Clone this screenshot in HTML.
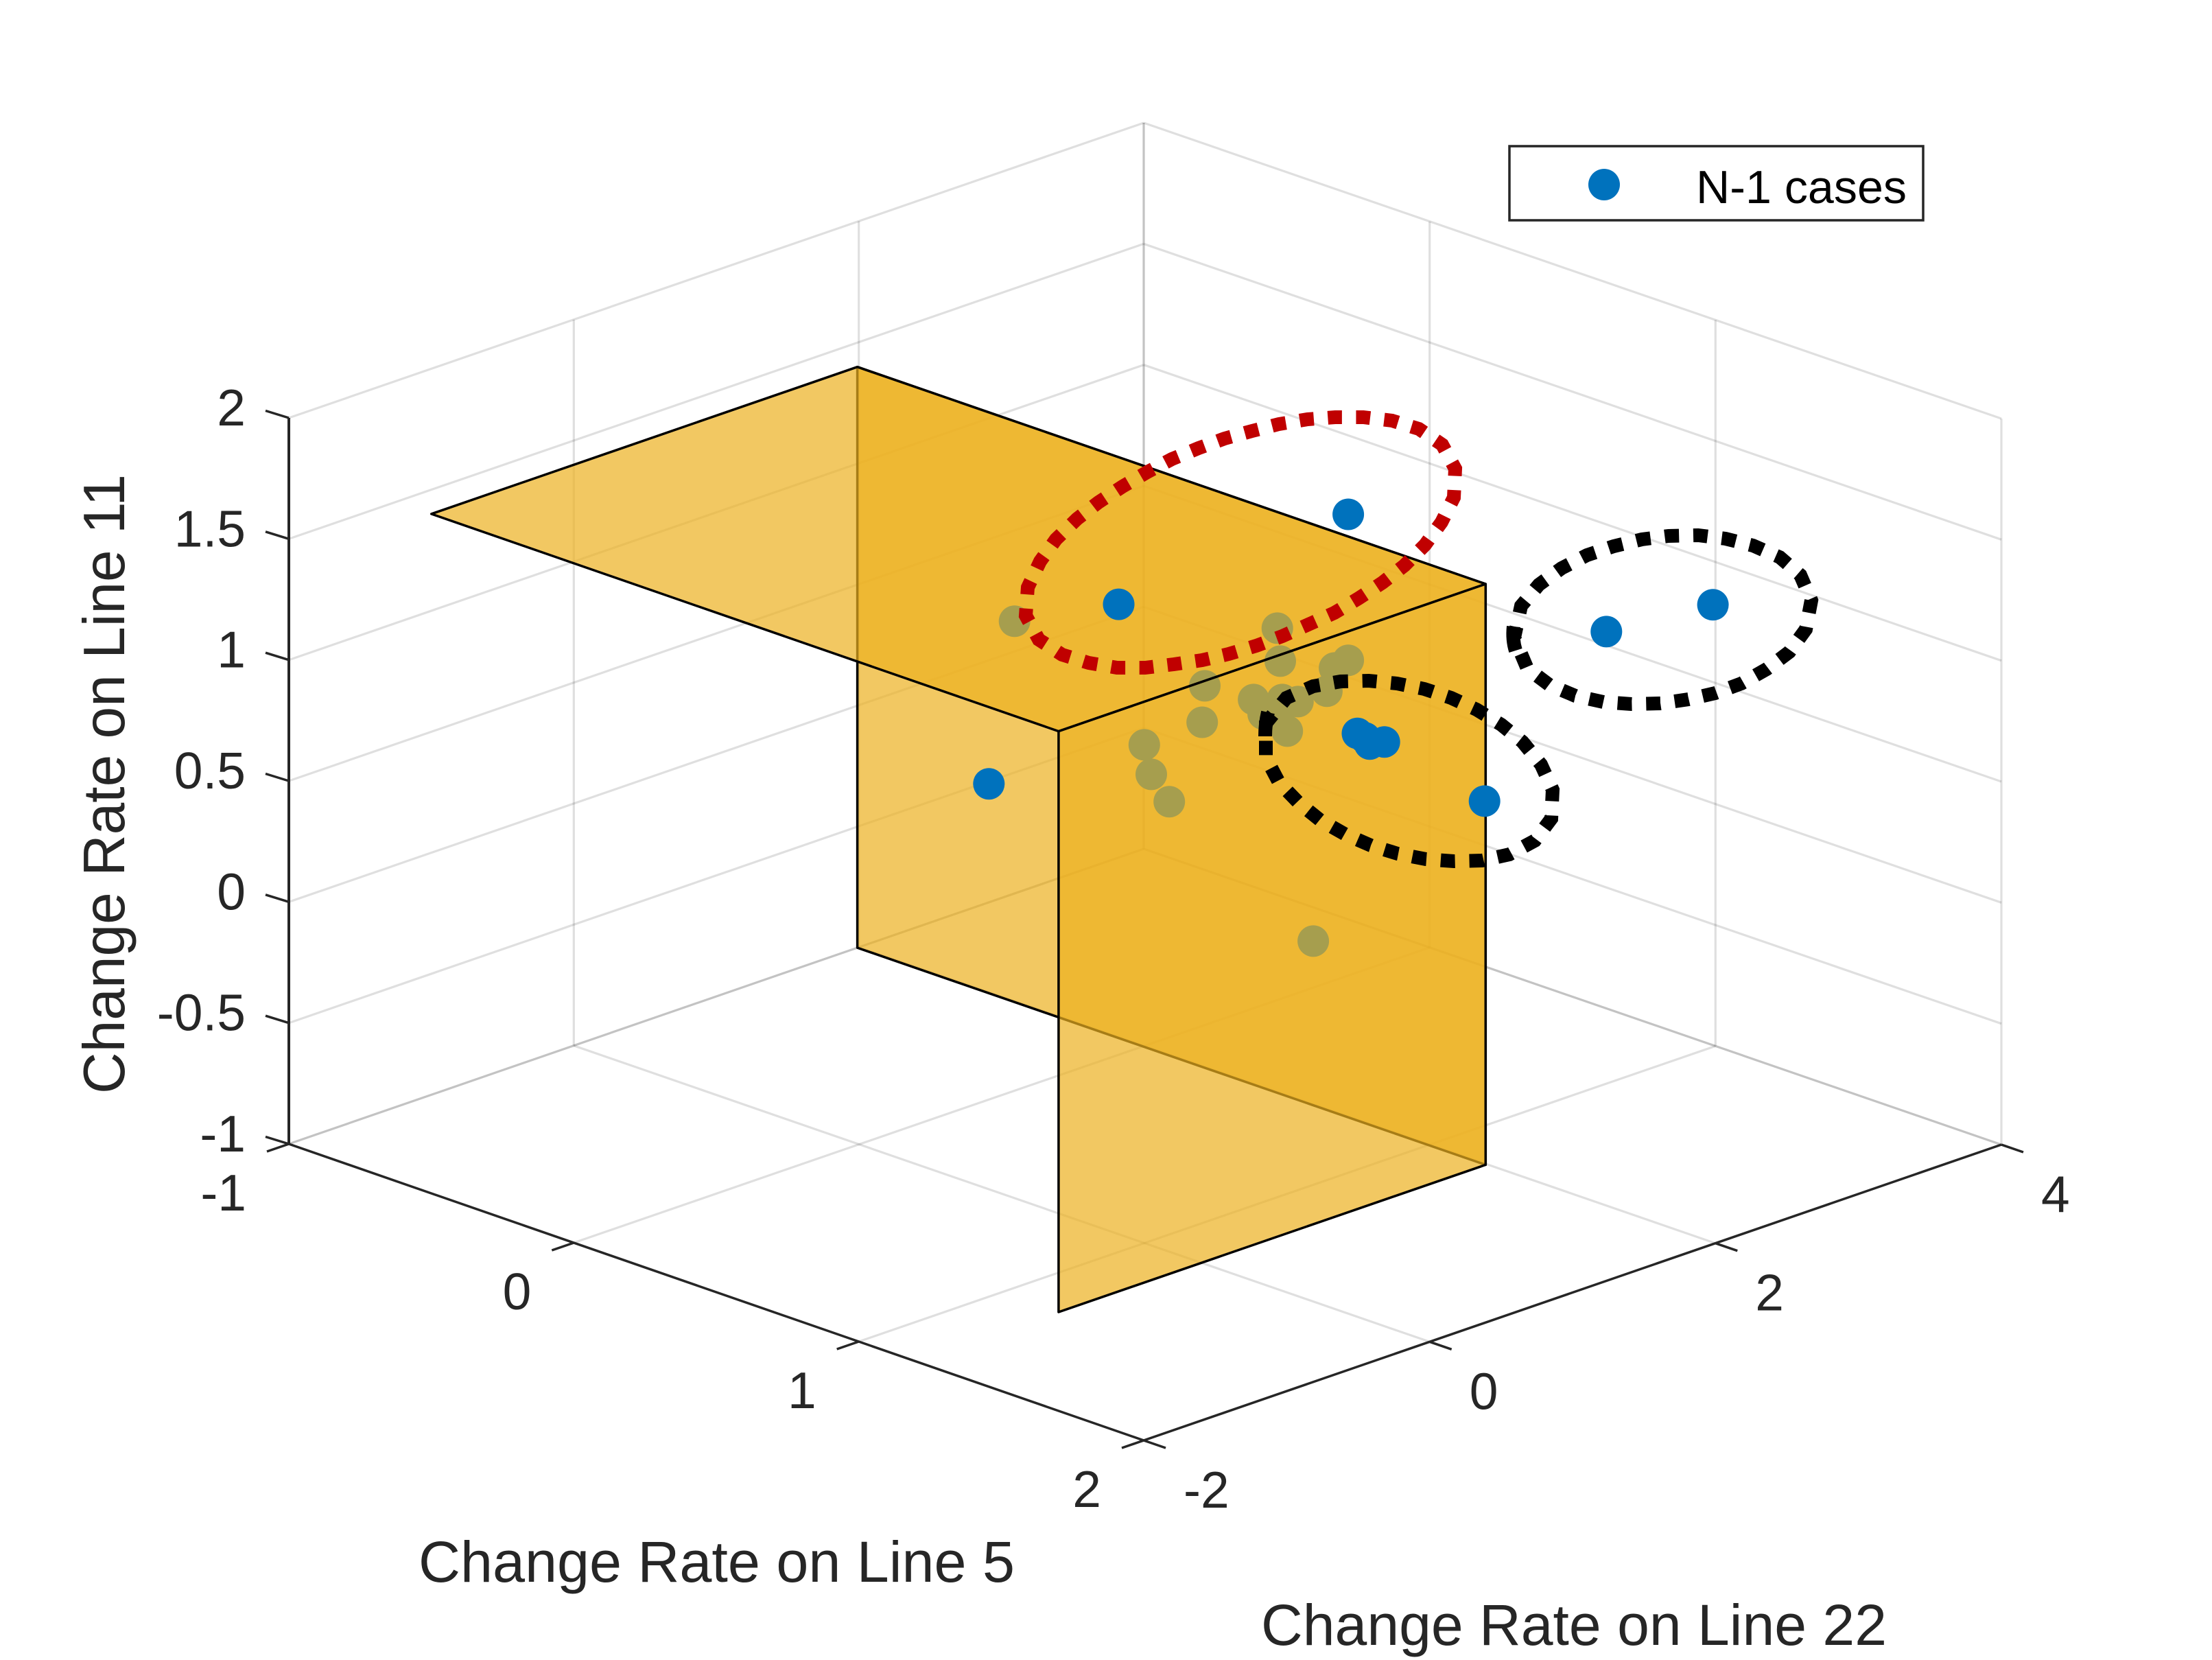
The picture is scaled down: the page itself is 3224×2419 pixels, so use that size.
<!DOCTYPE html>
<html>
<head>
<meta charset="utf-8">
<title>N-1 cases 3D scatter</title>
<style>
html,body{margin:0;padding:0;background:#fff;}
svg{display:block;font-family:"Liberation Sans",Arial,sans-serif;}
</style>
</head>
<body>
<svg id="chart" xmlns="http://www.w3.org/2000/svg" width="3224" height="2419" viewBox="0 0 3224 2419">
  <rect x="0" y="0" width="3224" height="2419" fill="#fff"/>
  <g id="grid" fill="none" stroke="#262626" stroke-opacity="0.15" stroke-width="3.2"></g>
  <g id="axes" fill="none" stroke="#262626" stroke-width="3.5"></g>
  <g id="tick-labels" font-size="75" fill="#262626"></g>
  <g id="back-layer"></g>
  <g id="hidden-points"></g>
  <g id="front-layer"></g>
  <g id="front-points"></g>

  <text x="610" y="2305" font-size="84" fill="#262626" textLength="869" lengthAdjust="spacingAndGlyphs">Change Rate on Line 5</text>
  <text x="1838" y="2397" font-size="84" fill="#262626" textLength="912" lengthAdjust="spacingAndGlyphs">Change Rate on Line 22</text>
  <text transform="translate(181 1594) rotate(-90)" x="0" y="0" font-size="85" fill="#262626" textLength="903" lengthAdjust="spacingAndGlyphs">Change Rate on Line 11</text>

  <g>
    <rect x="2200" y="213" width="603" height="108" fill="#fff" stroke="#262626" stroke-width="3.5"/>
    <circle cx="2338" cy="269" r="23" fill="#0072BD"/>
    <text x="2472" y="296" font-size="68" fill="#000" textLength="307" lengthAdjust="spacingAndGlyphs">N-1 cases</text>
  </g>

  <path fill="none" stroke="#C00000" stroke-width="20" pathLength="38" stroke-dasharray="0.5 0.5" stroke-dashoffset="0.25"
    d="M1495 897L1498 856L1516 818L1539 786L1570 756L1601 732L1636 709L1672 688L1708 669L1747 653L1785 639L1825 628L1864 618L1906 611L1946 608L1987 608L2029 613L2068 625L2102 648L2121 683L2119 725L2101 761L2077 794L2047 824L2015 849L1980 872L1945 893L1907 910L1869 927L1831 941L1791 953L1752 962L1711 968L1669 973L1628 973L1587 966L1548 954L1514 932Z"/>
  <path fill="none" stroke="#000" stroke-width="20" pathLength="26" stroke-dasharray="0.5 0.5" stroke-dashoffset="0.25"
    d="M2217 883L2243 852L2276 828L2313 809L2352 796L2393 786L2432 781L2475 780L2515 785L2555 795L2594 812L2624 838L2640 875L2632 917L2608 950L2575 975L2538 996L2500 1010L2461 1019L2420 1025L2378 1026L2337 1023L2296 1014L2258 998L2226 974L2207 929Z"/>
  <path fill="none" stroke="#000" stroke-width="20" d="M2206 913Q2204 932 2209 948"/>
  <path fill="none" stroke="#000" stroke-width="20" pathLength="26" stroke-dasharray="0.5 0.5" stroke-dashoffset="0.25"
    d="M1875 1017L1914 1000L1954 993L1995 992L2036 996L2076 1004L2115 1017L2152 1034L2188 1056L2219 1081L2246 1114L2263 1151L2261 1193L2237 1225L2200 1245L2160 1254L2119 1255L2078 1252L2037 1244L1998 1232L1961 1216L1924 1195L1893 1170L1864 1140L1845 1104L1845 1054Z"/>
  <path fill="none" stroke="#000" stroke-width="20" d="M1848 1038Q1844 1055 1844 1073"/>
</svg>
<script>
// Axis ticks
const xTicks = [-1, 0, 1, 2];
const yTicks = [-2, 0, 2, 4];
const zTicks = [-1, -0.5, 0, 0.5, 1, 1.5, 2];

// Decision-boundary patch extents (data units)
const patchX = [-1, 1.2];
const patchY = [-1, 1.99];
const patchZ = [-1, 1.4];

// N-1 case values
const caseLine5 = [0.852, 0.784, 1.826, 1.653, 0.24, 1.563, 1.243, 1.279, 1.318, 1.333,
  0.074, 0.569, 0.741, 0.856, 0.871, 0.489, 0.669, 0.644, 0.694, 0.732, 0.73, 0.734, 0.863, 0.771, 0.314, 0.476, 0.646, 0.746];
const caseLine22 = [1.724, 0.252, 2.33, 1.93, 0.43, 1.257, 1.007, 0.988, 0.943, 1.015,
  0.942, 1.793, 1.47, 1.716, 1.59, 1.445, 1.067, 1.477, 1.578, 1.612, 1.818, 1.364, 1.275, 1.396, 1.371, 1.096, 0.882, 1.691];
const caseLine11 = [1.6, 1.5, 1.5, 1.4, 0.5, 0.8, 1, 1, 1, 1,
  1, 1, 1, 1, 1, 0.8, 0.8, 0.8, 0.8, 0.8, 0.8, 0.8, 0.8, 0.8, 0.5, 0.5, 0.5, -0.2];

const NS = 'http://www.w3.org/2000/svg';

// Axis functions: 3D-to-screen projection with a slight perspective term
const xMin = xTicks[0], xMax = xTicks[xTicks.length - 1];
const yMin = yTicks[0], yMax = yTicks[yTicks.length - 1];
const zMin = zTicks[0], zMax = zTicks[zTicks.length - 1];
function sx(x, y) {
  return 1667 + (x - xMax) * (1246 / (xMax - xMin)) + (y - yMin) * (1250 / (yMax - yMin))
    + (x - xMax) * (y - yMin) * 0.2222;
}
function sy(x, y, z) {
  return 2099 + (x - xMax) * (432 / (xMax - xMin)) - (y - yMin) * (431 / (yMax - yMin))
    - (z - zMin) * (1058 / (zMax - zMin)) - (x - xMax) * (y - yMin) * 0.0556;
}
function pt(x, y, z) {
  return [sx(x, y), sy(x, y, z)];
}
function pointsAttr(list) {
  return list.map(function (p) { return p[0].toFixed(1) + ',' + p[1].toFixed(1); }).join(' ');
}
function makeLine(parent, a, b) {
  const l = document.createElementNS(NS, 'line');
  l.setAttribute('x1', a[0].toFixed(1));
  l.setAttribute('y1', a[1].toFixed(1));
  l.setAttribute('x2', b[0].toFixed(1));
  l.setAttribute('y2', b[1].toFixed(1));
  parent.appendChild(l);
  return l;
}
function makeText(parent, str, x, y, anchor) {
  const t = document.createElementNS(NS, 'text');
  t.setAttribute('x', x.toFixed(1));
  t.setAttribute('y', y.toFixed(1));
  t.setAttribute('text-anchor', anchor);
  t.textContent = str;
  parent.appendChild(t);
  return t;
}

// Grid
const gridG = document.getElementById('grid');
xTicks.forEach(function (x) {
  const floorLine = makeLine(gridG, pt(x, yMin, zMin), pt(x, yMax, zMin));
  
  
  const wallLine = makeLine(gridG, pt(x, yMax, zMin), pt(x, yMax, zMax));
  
  
});
yTicks.forEach(function (y) {
  const floorLine = makeLine(gridG, pt(xMin, y, zMin), pt(xMax, y, zMin));
  
  
  const wallLine = makeLine(gridG, pt(xMin, y, zMin), pt(xMin, y, zMax));
  
  
});
zTicks.forEach(function (z) {
  const a = makeLine(gridG, pt(xMin, yMin, z), pt(xMin, yMax, z));
  
  
  const b = makeLine(gridG, pt(xMin, yMax, z), pt(xMax, yMax, z));
  
  
});

// Axes and ticks
const axesG = document.getElementById('axes');
const xAxisLine = makeLine(axesG, pt(xMin, yMin, zMin), pt(xMax, yMin, zMin));


const yAxisLine = makeLine(axesG, pt(xMax, yMin, zMin), pt(xMax, yMax, zMin));


const zAxisLine = makeLine(axesG, pt(xMin, yMin, zMin), pt(xMin, yMin, zMax));


zAxisLine.setAttribute('stroke-width', '4');

const labelsG = document.getElementById('tick-labels');
xTicks.forEach(function (x) {
  const p = pt(x, yMin, zMin);
  const tick = makeLine(axesG, p, [p[0] - 32, p[1] + 11]);
  
  
  const lab = makeText(labelsG, String(x), p[0] - 62, p[1] + 97, 'end');
  
  
});
yTicks.forEach(function (y) {
  const p = pt(xMax, y, zMin);
  const tick = makeLine(axesG, p, [p[0] + 32, p[1] + 11]);
  
  
  const lab = makeText(labelsG, String(y), p[0] + 58, p[1] + 98, 'start');
  
  
});
zTicks.forEach(function (z) {
  const p = pt(xMin, yMin, z);
  const tick = makeLine(axesG, p, [p[0] - 34, p[1] - 10.5]);
  
  
  const lab = makeText(labelsG, String(z), 358, p[1] + 11, 'end');
  
  
});

// Patches
function makePatch(parent, corners) {
  const poly = document.createElementNS(NS, 'polygon');
  poly.setAttribute('points', pointsAttr(corners));
  poly.setAttribute('fill', '#EDB120');
  poly.setAttribute('fill-opacity', '0.7');
  poly.setAttribute('stroke', '#000');
  poly.setAttribute('stroke-width', '3.5');
  poly.setAttribute('stroke-linejoin', 'round');
  parent.appendChild(poly);
  return poly;
}
const backLayer = document.getElementById('back-layer');
const frontLayer = document.getElementById('front-layer');
const backWall = makePatch(backLayer, [
  pt(patchX[0], patchY[1], patchZ[1]), pt(patchX[1], patchY[1], patchZ[1]),
  pt(patchX[1], patchY[1], patchZ[0]), pt(patchX[0], patchY[1], patchZ[0])
]);


const topPlane = makePatch(frontLayer, [
  pt(patchX[0], patchY[0], patchZ[1]), pt(patchX[0], patchY[1], patchZ[1]),
  pt(patchX[1], patchY[1], patchZ[1]), pt(patchX[1], patchY[0], patchZ[1])
]);


const frontWall = makePatch(frontLayer, [
  pt(patchX[1], patchY[0], patchZ[1]), pt(patchX[1], patchY[1], patchZ[1]),
  pt(patchX[1], patchY[1], patchZ[0]), pt(patchX[1], patchY[0], patchZ[0])
]);



// Points: those inside the patch volume are drawn beneath the top and front planes
const hiddenG = document.getElementById('hidden-points');
const frontG = document.getElementById('front-points');
caseLine5.forEach(function (x, i) {
  const y = caseLine22[i], z = caseLine11[i];
  const p = pt(x, y, z);
  const inside = x < patchX[1] && y < patchY[1] && z < patchZ[1];
  const c = document.createElementNS(NS, 'circle');
  c.setAttribute('cx', p[0].toFixed(1));
  c.setAttribute('cy', p[1].toFixed(1));
  c.setAttribute('r', '23');
  c.setAttribute('fill', '#0072BD');
  
  
  (inside ? hiddenG : frontG).appendChild(c);
});
</script>
</body>
</html>
